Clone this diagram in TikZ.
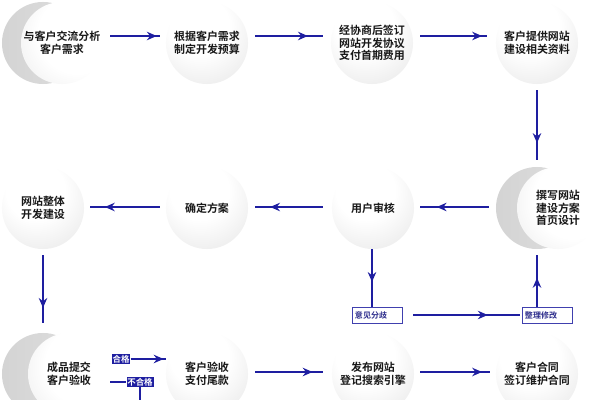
\documentclass[tikz,border=0pt]{standalone}
\usepackage{fontspec}
\newfontfamily\cjk{Noto Sans CJK SC Bold}
\usetikzlibrary{arrows.meta,decorations.markings}
\definecolor{flowblue}{RGB}{30,30,160}
\definecolor{tagblue}{RGB}{45,45,140}
\pgfdeclareradialshading{discgrey}{\pgfpoint{-6bp}{14bp}}{color(0bp)=(white); color(18bp)=(white); color(45bp)=(black!11); color(62bp)=(black!20); color(75bp)=(black!24)}
\pgfdeclareradialshading{discfrontgrey}{\pgfpoint{14bp}{8bp}}{color(0bp)=(white); color(24bp)=(white); color(48bp)=(black!9); color(64bp)=(black!17); color(75bp)=(black!20)}
\pgfdeclarehorizontalshading{discbackgrey}{100bp}{color(0bp)=(black!19); color(50bp)=(black!15); color(100bp)=(black!9)}
\tikzset{
  disc/.style={circle, minimum size=2.05cm, inner sep=0pt, shading=discgrey, align=center,
    font=\cjk\fontsize{7.8}{8.9}\selectfont, text=black!90},
  discfront/.style={disc, shading=discfrontgrey},
  discback/.style={circle, minimum size=2.05cm, inner sep=0pt, shading=discbackgrey},
  flow/.style={color=flowblue, line width=1.4pt},
  tipat/.style={decoration={markings, mark=at position #1 with {\arrow{Stealth[length=7pt,width=6pt]}}}, postaction={decorate}},
  tag/.style={draw=flowblue!85, line width=0.6pt, fill=white, text width=1.1cm, inner xsep=0.075cm,
    minimum height=0.4cm, inner ysep=0pt, align=left, text=tagblue, font=\cjk\fontsize{5.7}{6}\selectfont},
  passtag/.style={fill=flowblue, text=white, inner sep=0.6pt, font=\cjk\fontsize{6}{6.5}\selectfont}
}
\begin{document}
\begin{tikzpicture}[x=0.025cm,y=-0.025cm]
  \clip (0,0) rectangle (600,400);
  \fill[white] (0,0) rectangle (600,400);

  \node[discback] (n1b) at (43,43) {};
  \node[discfront] (n1) at (62,43) {与客户交流分析\\客户需求};
  \node[disc] (n2) at (207,43) {根据客户需求\\制定开发预算};
  \node[disc] (n3) at (372,43) {经协商后签订\\网站开发协议\\支付首期费用};
  \node[disc] (n4) at (537,43) {客户提供网站\\建设相关资料};

  \node[discback] (n5b) at (537,208) {};
  \node[discfront] (n5) at (558,208) {撰写网站\\建设方案\\首页设计};
  \node[disc] (n6) at (373,208) {用户审核};
  \node[disc] (n7) at (207,208) {确定方案};
  \node[disc] (n8) at (43,208) {网站整体\\开发建设};

  \node[discback] (n9b) at (43,374) {};
  \node[discfront] (n9) at (69,374) {成品提交\\客户验收};
  \node[disc] (n10) at (207,374) {客户验收\\支付尾款};
  \node[disc] (n11) at (373,374) {发布网站\\登记搜索引擎};
  \node[disc] (n12) at (537,374) {客户合同\\签订维护合同};

  \node[tag] (t1) at (377,315) {意见分歧};
  \node[tag] (t2) at (547,315) {整理修改};
  \node[passtag] (t3) at (121,359) {合格};
  \node[passtag] (t4) at (140,382) {不合格};
  \coordinate (cut) at (140,405);

  \draw[flow,tipat=0.94] ([shift={(7,-7)}]n1.east) -- ([shift={(-6,-7)}]n2.west);
  \draw[flow,tipat=0.78] ([shift={(7,-7)}]n2.east) -- ([shift={(-8,-7)}]n3.west);
  \draw[flow,tipat=0.93] ([shift={(7,-7)}]n3.east) -- ([shift={(-9,-7)}]n4.west);
  \draw[flow,tipat=0.76] ([shift={(0,6)}]n4.south) -- ([shift={(0,-7)}]n5b.north);

  \draw[flow,tipat=0.76] ([shift={(-7,-1)}]n5b.west) -- ([shift={(6,-1)}]n6.east);
  \draw[flow,tipat=0.78] ([shift={(-9,-1)}]n6.west) -- ([shift={(7,-1)}]n7.east);
  \draw[flow,tipat=0.79] ([shift={(-6,-1)}]n7.west) -- ([shift={(6,-1)}]n8.east);
  \draw[flow,tipat=0.78] ([shift={(0,6)}]n8.south) -- ([shift={(0,-10)}]n9b.north);

  \draw[flow,tipat=0.57] ([shift={(-1,0)}]n6.south) -- ([shift={(-1,0)}]n6.south |- t1.north);
  \draw[flow,tipat=0.70] ([shift={(11,0)}]t1.east) -- ([shift={(-2,0)}]t2.west);
  \draw[flow,tipat=0.56] (n5b.south |- t2.north) -- ([shift={(0,6)}]n5b.south);

  \draw[flow,tipat=0.94] (t3.east) -- (t3.east -| n10.west);
  \draw[flow] (t4.west -| n9.east) -- (t4.west);
  \draw[flow] (t4.south) -- (t4.south |- cut);
  \draw[flow,tipat=0.85] ([shift={(7,-2)}]n10.east) -- ([shift={(-9,-2)}]n11.west);
  \draw[flow,tipat=0.89] ([shift={(6,-2)}]n11.east) -- ([shift={(-6,-2)}]n12.west);
\end{tikzpicture}
\end{document}
